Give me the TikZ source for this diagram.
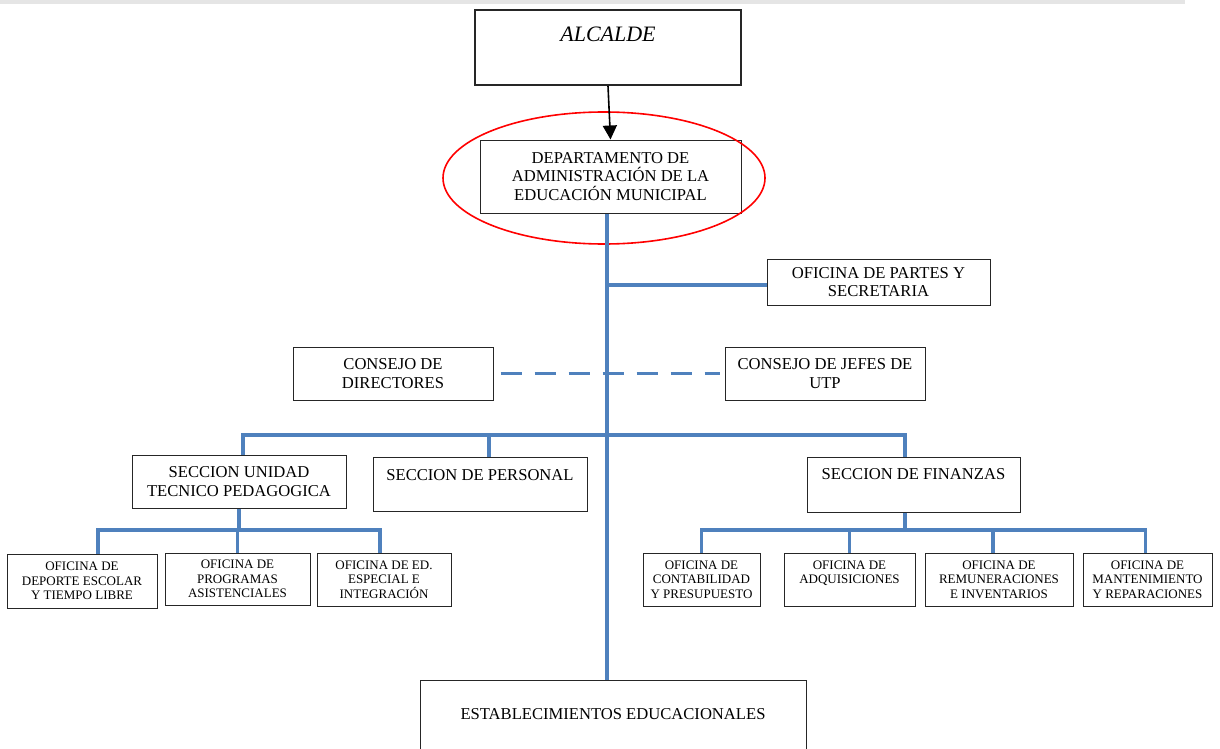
\documentclass[tikz,border=0pt]{standalone}
\usepackage{fontspec}
\setmainfont{Liberation Serif}
\usetikzlibrary{arrows.meta}
\definecolor{orgblue}{RGB}{79,129,189}

\begin{document}
\begin{tikzpicture}[
            x=0.5pt, y=-0.5pt,
            box/.style={draw=black!85, line width=0.5pt, align=center, inner sep=1pt,
                font=\fontsize{8.3}{9.2}\selectfont},
            small/.style={box, font=\fontsize{6.5}{7.2}\selectfont},
            boxsize/.style 2 args={minimum width=#1, minimum height=#2},
            toptext/.style={text height=6pt, text depth=#1},
            org/.style={draw=orgblue, line width=1.8pt}
        ]
        \useasboundingbox (0,0) rectangle (1220,749);
        \fill[black!10] (0,0) rectangle (1185,4);

        % Head of the chart
        \node[box, boxsize={133pt}{37.5pt}, line width=1pt, toptext=11.5pt,
            font=\fontsize{11}{13}\selectfont\itshape] (alcalde) at (608,47.5) {ALCALDE};
        \node[box, boxsize={130.5pt}{36.5pt}] (daem) at (610.5,176.5)
            {DEPARTAMENTO DE\\ADMINISTRACIÓN DE LA\\EDUCACIÓN MUNICIPAL};
        \draw[red, line width=0.8pt] (604,178) ellipse [x radius=80.5pt, y radius=33pt];
        \draw[line width=0.8pt, -{Triangle[length=7pt, width=7pt]}] (alcalde.south) -- (daem.north);

        % Staff and councils
        \node[box, boxsize={111.5pt}{23pt}] (partes) at (878.5,282) {OFICINA DE PARTES Y\\SECRETARIA};
        \node[box, boxsize={100pt}{26.5pt}] (cdir) at (393,373.5) {CONSEJO DE\\DIRECTORES};
        \node[box, boxsize={100pt}{26.5pt}] (cutp) at (825,373.5) {CONSEJO DE JEFES DE\\UTP};

        % Sections
        \node[box, boxsize={107pt}{26.5pt}] (sutp) at (239,481.5) {SECCION UNIDAD\\TECNICO PEDAGOGICA};
        \node[box, boxsize={107pt}{27pt}, toptext=10pt] (spers) at (480,484) {SECCION DE PERSONAL};
        \node[box, boxsize={106.5pt}{27.5pt}, toptext=11.5pt] (sfin) at (913.5,484.5) {SECCION DE FINANZAS};

        % Offices
        \node[small, boxsize={75pt}{27pt}] (o1) at (82,581) {OFICINA DE\\DEPORTE ESCOLAR\\Y TIEMPO LIBRE};
        \node[small, boxsize={72.5pt}{26pt}] (o2) at (237.5,579) {OFICINA DE\\PROGRAMAS\\ASISTENCIALES};
        \node[small, boxsize={67pt}{26.5pt}] (o3) at (384,579.5) {OFICINA DE ED.\\ESPECIAL E\\INTEGRACIÓN};
        \node[small, boxsize={58.5pt}{26.5pt}] (f1) at (701.5,579.5) {OFICINA DE\\CONTABILIDAD\\Y PRESUPUESTO};
        \node[small, boxsize={65.5pt}{26.5pt}] (f2) at (849.5,579.5) {OFICINA DE\\ADQUISICIONES\\\mbox{}};
        \node[small, boxsize={74pt}{26.5pt}] (f3) at (999,579.5) {OFICINA DE\\REMUNERACIONES\\E INVENTARIOS};
        \node[small, boxsize={64.5pt}{26.5pt}] (f4) at (1147.5,579.5) {OFICINA DE\\MANTENIMIENTO\\Y REPARACIONES};

        \node[box, boxsize={193pt}{38pt}, toptext=5pt] (estab) at (613,718) {ESTABLECIMIENTOS EDUCACIONALES};

        % Connectors
        \coordinate (spine) at ([xshift=-1.75pt]daem.south);
        \coordinate (bar1) at (0,435);
        \coordinate (bar2) at (0,530);
        \draw[org] (spine) -- (spine |- estab.north);
        \draw[org] (spine |- partes.west) ++(0,3) -- ([yshift=-1.5pt]partes.west);
        \draw[org, dash pattern=on 10.5pt off 6.5pt] ([xshift=3.5pt]cdir.east) -- ([xshift=-2.5pt]cutp.west);
        \draw[org] ([xshift=2pt]sutp.north) |- ([xshift=-4.25pt]sfin.north |- bar1) -- ([xshift=-4.25pt]sfin.north);
        \draw[org] ([xshift=4.5pt]spers.north) -- ([xshift=4.5pt]spers.north |- bar1);

        \draw[org] (sutp.south) -- (sutp.south |- bar2);
        \draw[org] ([xshift=8pt]o1.north) |- ([xshift=-2pt]o3.north |- bar2) -- ([xshift=-2pt]o3.north);
        \draw[org] (o2.north) -- (o2.north |- bar2);

        \draw[org] ([xshift=-4.25pt]sfin.south) -- ([xshift=-4.25pt]sfin.south |- bar2);
        \draw[org] (f1.north) |- ([xshift=-1pt]f4.north |- bar2) -- ([xshift=-1pt]f4.north);
        \draw[org] (f2.north) -- (f2.north |- bar2);
        \draw[org] ([xshift=-3pt]f3.north) -- ([xshift=-3pt]f3.north |- bar2);

        \end{tikzpicture}
\end{document}
